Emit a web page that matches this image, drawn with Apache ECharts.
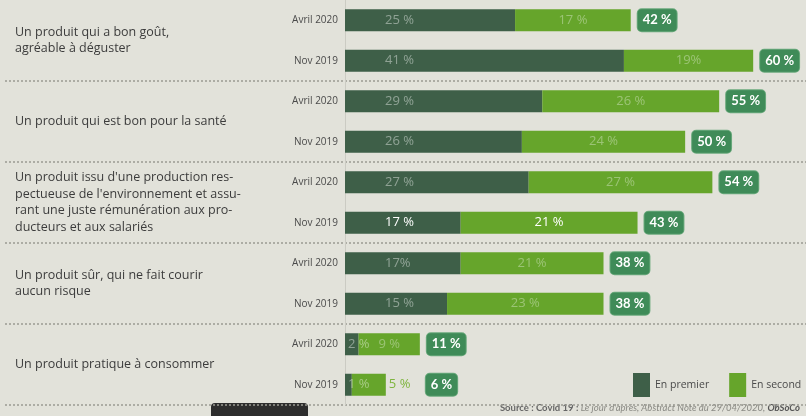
<!DOCTYPE html>
<html><head><meta charset="utf-8">
<script src="https://cdn.jsdelivr.net/npm/echarts@6/dist/echarts.min.js"></script>
<style>html,body{margin:0;padding:0;background:#e2e2da}#c{width:806px;height:416px}</style>
</head><body><div id="c"></div>
<script>
const periods = ['Avril 2020','Nov 2019','Avril 2020','Nov 2019','Avril 2020','Nov 2019','Avril 2020','Nov 2019','Avril 2020','Nov 2019'];
const groups = [
  'Un produit qui a bon goût,\nagréable à déguster',
  'Un produit qui est bon pour la santé',
  'Un produit issu d\'une production res-\npectueuse de l\'environnement et assu-\nrant une juste rémunération aux pro-\nducteurs et aux salariés',
  'Un produit sûr, qui ne fait courir\naucun risque',
  'Un produit pratique à consommer'
];
const seriesNames = ['En premier','En second'];
const firstValues  = [25,41,29,26,27,17,17,15,2,1];
const secondValues = [17,19,26,24,27,26,21,23,9,5];
const totalValues  = [42,60,55,50,54,43,38,38,11,6];
const firstLabels  = ['25 %','41 %','29 %','26 %','27 %','17 %','17%','15 %','2 %','1 %'];
const secondLabels = ['17 %','19%','26 %','24 %','27 %','21 %','21 %','23 %','9 %','5 %'];
const sourceParts = ['Source : Covid 19 : ','Le jour d\'après, Abstract Note du 29/04/2020, ','ObSoCo'];

const FONT = '"Open Sans", Lato, sans-serif';
const FONT2 = 'Lato, "Open Sans", sans-serif';
const DARK = '#3e5f48', LIGHT = '#66a52b', BOX = '#3f8b58';
const chart = echarts.init(document.getElementById('c'));

const firstData = firstValues.map((v,i)=>{
  const d = {value:v};
  if (v < 5) d.label = {distance:3};
  if (i === 5) d.label = {color:'#ffffff'};
  return d;
});
const secondData = secondValues.map((v,i)=>{
  const d = {value:v};
  if (i === 5) d.label = {color:'#ffffff'};
  if (v < 6) d.label = {position:'right', distance:3, color:'#7fb53f'};
  return d;
});
const totalData = totalValues.map((v,i)=>{
  const d = {value:v};
  if (secondValues[i] < 6) d.label = {offset:[33,0]};
  return d;
});

chart.setOption({
  backgroundColor:'#e2e2da',
  animation:false,
  textStyle:{fontFamily:FONT},
  grid:[
    {left:345, top:-1, width:449, height:406},
    {left:5, right:0, top:-1, height:406}
  ],
  xAxis:[
    {type:'value', gridIndex:0, min:0, max:66, show:false},
    {type:'value', gridIndex:1, min:0, max:1, show:false}
  ],
  yAxis:[
    {type:'category', gridIndex:0, data:periods, inverse:true,
     axisLine:{show:true, lineStyle:{color:'#cbcbc3'}}, axisTick:{show:false},
     axisLabel:{margin:7, fontSize:10, color:'#4a4a4a', fontFamily:FONT}},
    {type:'category', gridIndex:1, data:groups, inverse:true,
     axisLine:{show:false}, axisTick:{show:false},
     axisLabel:{inside:true, margin:10, fontSize:12.5, lineHeight:16.5, color:'#3c3c3c', fontFamily:FONT},
     splitLine:{show:true, interval:(i)=> i>0, lineStyle:{type:[2,2], color:'#9a9a92', width:1.5}}}
  ],
  legend:{
    data:seriesNames, left:633, top:373, width:173, padding:0, itemWidth:17, itemHeight:24, itemGap:20, icon:'rect',
    textStyle:{fontSize:10.5, color:'#4a4a4a', fontFamily:FONT}
  },
  series:[
    {name:seriesNames[0], type:'bar', stack:'a', xAxisIndex:0, yAxisIndex:0, barWidth:22, z:3,
     itemStyle:{color:DARK}, data:firstData,
     label:{show:true, position:'insideLeft', distance:40, fontSize:13, fontFamily:FONT, color:'rgba(255,255,255,0.42)',
       formatter:(p)=>firstLabels[p.dataIndex]}},
    {name:seriesNames[1], type:'bar', stack:'a', xAxisIndex:0, yAxisIndex:0, barWidth:22, z:3,
     itemStyle:{color:LIGHT}, data:secondData,
     label:{show:true, position:'inside', fontSize:13, fontFamily:FONT, color:'rgba(255,255,255,0.35)',
       formatter:(p)=>secondLabels[p.dataIndex]}},
    {name:'Total', type:'bar', xAxisIndex:0, yAxisIndex:0, barWidth:22, barGap:'-100%', z:2,
     itemStyle:{color:'rgba(0,0,0,0)'}, data:totalData, silent:true,
     label:{show:true, position:'right', distance:7, formatter:(p)=>p.value+' %',
       backgroundColor:BOX, borderColor:'#6aa97c', borderWidth:1, borderRadius:4, padding:[5,5,4,5],
       color:'#ffffff', fontWeight:'bold', fontSize:13, fontFamily:FONT2}}
  ],
  graphic:[
    {type:'rect', left:211, top:403, shape:{width:97, height:22, r:4}, style:{fill:'#2d2d2d'}},
    {type:'text', right:6, top:403, style:{
      text:'{a|'+sourceParts[0]+'}{b|'+sourceParts[1]+'}{c|'+sourceParts[2]+'}',
      rich:{
        a:{fontSize:9.5, fontWeight:'bold', fill:'#666', fontFamily:FONT2},
        b:{fontSize:9.5, fontStyle:'italic', fill:'#8a8a84', fontFamily:FONT2},
        c:{fontSize:9.5, fontStyle:'italic', fontWeight:'bold', fill:'#555', fontFamily:FONT2}
      }}}
  ]
});
</script></body></html>
